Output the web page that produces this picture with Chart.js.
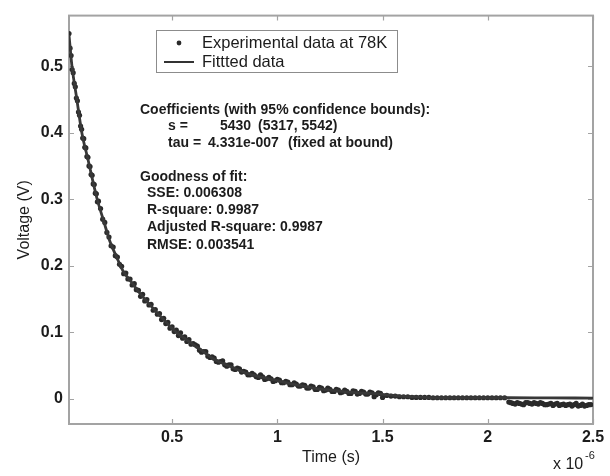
<!DOCTYPE html>
<html>
<head>
<meta charset="utf-8">
<script src="https://cdn.jsdelivr.net/npm/chart.js@4.4.0/dist/chart.umd.min.js"></script>
<style>
html,body{margin:0;padding:0;background:#fff;}
#wrap{width:610px;height:476px;position:relative;}
</style>
</head>
<body>
<div id="wrap"><canvas id="c" width="610" height="476"></canvas></div>
<script>
// Time in units of 1e-6 s (axis shows "x 10^-6"), voltage in V
const expTime = [
0.010,0.015,0.020,0.025,0.030,0.035,0.040,0.045,0.050,0.055,0.060,0.065,0.070,0.075,0.080,0.085,0.090,0.095,0.100,0.105,0.110,0.115,0.120,0.125,0.130,0.135,0.140,0.145,0.150,
0.16,0.17,0.18,0.19,0.20,0.21,0.22,0.23,0.24,0.25,0.26,0.27,0.28,0.29,0.30,0.31,0.32,0.33,0.34,0.35,0.36,0.37,0.38,0.39,0.40,0.41,0.42,0.43,0.44,0.45,0.46,0.47,0.48,0.49,0.50,0.51,0.52,0.53,0.54,0.55,0.56,0.57,0.58,0.59,0.60,
0.62,0.64,0.66,0.68,0.70,0.72,0.74,0.76,0.78,0.80,0.82,0.84,0.86,0.88,0.90,0.92,0.94,0.96,0.98,1.00,
1.02,1.04,1.06,1.08,1.10,1.12,1.14,1.16,1.18,1.20,1.22,1.24,1.26,1.28,1.30,1.32,1.34,1.36,1.38,1.40,
1.42,1.44,1.46,1.48,1.50,1.52,1.54,1.56,1.58,1.60,1.62,1.64,1.66,1.68,1.70,1.72,1.74,1.76,1.78,1.80,
1.82,1.84,1.86,1.88,1.90,1.92,1.94,1.96,1.98,2.00,2.02,2.04,2.06,2.08,2.10,2.12,2.14,2.16,2.18,2.20,
2.22,2.24,2.26,2.28,2.30,2.32,2.34,2.36,2.38,2.40,2.42,2.44,2.46,2.48
];
const expVoltage = [
0.549,0.527,0.516,0.495,0.490,0.474,0.469,0.452,0.448,0.431,0.426,0.410,0.405,0.392,0.391,0.378,0.377,0.364,0.363,0.350,0.349,0.337,0.336,0.323,0.322,0.309,0.308,0.296,0.297,
0.286,0.270,0.265,0.250,0.243,0.230,0.228,0.215,0.213,0.202,0.199,0.188,0.189,0.180,0.180,0.171,0.173,0.164,0.163,0.154,0.157,0.147,0.149,0.141,0.142,0.133,0.134,0.127,0.128,0.119,0.121,0.113,0.115,0.106,0.108,0.101,0.103,0.095,0.099,0.091,0.093,0.086,0.089,0.082,0.083,
0.079,0.070,0.071,0.062,0.061,0.055,0.057,0.049,0.051,0.044,0.045,0.041,0.036,0.038,0.033,0.036,0.029,0.032,0.026,0.029,
0.024,0.026,0.021,0.024,0.019,0.021,0.016,0.019,0.014,0.017,0.012,0.016,0.011,0.014,0.009,0.013,0.008,0.012,0.007,0.011,
0.007,0.010,0.003,0.009,0.002,0.005,0.004,0.004,0.003,0.003,0.003,0.002,0.002,0.002,0.002,0.002,0.0015,0.0015,0.0015,0.0015,
0.0015,0.0015,0.0015,0.0015,0.0015,0.0015,0.0015,0.0015,0.0015,0.0015,0.0015,0.0015,0.0015,0.0015,-0.005,-0.007,-0.006,-0.008,-0.006,-0.007,
-0.006,-0.008,-0.007,-0.009,-0.007,-0.008,-0.010,-0.008,-0.009,-0.011,-0.007,-0.010,-0.011,-0.009
];
// additional in-between samples (dense parts of the record)
const expTimeMid = [
0.61,0.63,0.65,0.67,0.69,0.71,0.73,0.75,0.77,0.79,0.81,0.83,0.85,0.87,0.89,0.91,0.93,0.95,0.97,0.99,
1.01,1.03,1.05,1.07,1.09,1.11,1.13,1.15,1.17,1.19,1.21,1.23,1.25,1.27,1.29,1.31,1.33,1.35,1.37,1.39,
1.41,1.43,1.45,1.47,1.49,
2.11,2.13,2.15,2.17,2.19,2.21,2.23,2.25,2.27,2.29,2.31,2.33,2.35,2.37,2.39,2.41,2.43,2.45,2.47,2.49
];
const expVoltageMid = [
0.081,0.073,0.071,0.064,0.063,0.056,0.056,0.051,0.051,0.045,0.046,0.040,0.040,0.036,0.036,0.032,0.033,0.030,0.030,0.027,
0.028,0.024,0.025,0.021,0.022,0.019,0.020,0.016,0.018,0.014,0.016,0.013,0.014,0.011,0.013,0.010,0.011,0.008,0.011,0.008,
0.010,0.007,0.009,0.006,0.008,
-0.006,-0.008,-0.007,-0.009,-0.006,-0.008,-0.007,-0.006,-0.009,-0.008,-0.010,-0.007,-0.009,-0.010,-0.008,-0.009,-0.011,-0.008,-0.010,-0.009
];
const fitTime = [0.01,0.024,0.045,0.071,0.1,0.143,0.175,0.205,0.235,0.267,0.31,0.348,0.39,0.429,0.47,0.505,0.571,0.63,0.695,0.78,0.857,0.93,1.014,1.09,1.171,1.25,1.333,1.41,1.49,1.586,1.66,1.743,1.9,2.095,2.3,2.5];
const fitVoltage = [0.547,0.5,0.455,0.4,0.36,0.301,0.267,0.236,0.214,0.192,0.174,0.158,0.143,0.129,0.1155,0.104,0.088,0.075,0.060,0.048,0.038,0.032,0.026,0.021,0.016,0.013,0.010,0.0085,0.007,0.004,0.0027,0.0015,0.0015,0.0015,0.0012,0.001];
const xTicks = [0.5,1,1.5,2,2.5];
const xTickLabels = ['0.5','1','1.5','2','2.5'];
const yTicks = [0,0.1,0.2,0.3,0.4,0.5];
const yTickLabels = ['0','0.1','0.2','0.3','0.4','0.5'];
const legendLabels = ['Experimental data at 78K','Fittted data'];
const fitStats = ['SSE: 0.006308','R-square: 0.9987','Adjusted R-square: 0.9987','RMSE: 0.003541'];

const FONT = "'Liberation Sans', Arial, Helvetica, sans-serif";
const TXT = '#1c1c1c';

const decor = {
  id: 'decor',
  beforeDatasetsDraw(chart) {
    const {ctx, chartArea: a, scales: {x, y}} = chart;
    ctx.save();
    ctx.strokeStyle = '#a3a3a3';
    ctx.lineWidth = 2;
    ctx.strokeRect(a.left, a.top, a.right - a.left, a.bottom - a.top);
    ctx.lineWidth = 1.2;
    ctx.beginPath();
    xTicks.forEach(v => {
      const p = Math.round(x.getPixelForValue(v)) + 0.5;
      ctx.moveTo(p, a.bottom); ctx.lineTo(p, a.bottom - 5);
      ctx.moveTo(p, a.top); ctx.lineTo(p, a.top + 5);
    });
    yTicks.forEach(v => {
      const p = Math.round(y.getPixelForValue(v)) + 0.5;
      ctx.moveTo(a.left, p); ctx.lineTo(a.left + 5, p);
      ctx.moveTo(a.right, p); ctx.lineTo(a.right - 5, p);
    });
    ctx.stroke();
    ctx.restore();
  },
  afterDraw(chart) {
    const {ctx} = chart;
    ctx.save();
    // legend box
    ctx.fillStyle = '#fff';
    ctx.fillRect(156, 30, 241, 42);
    ctx.strokeStyle = '#8c8c8c';
    ctx.lineWidth = 1;
    ctx.strokeRect(156.5, 30.5, 241, 42);
    ctx.fillStyle = '#2a2a2a';
    ctx.beginPath(); ctx.arc(179, 43, 2.4, 0, Math.PI * 2); ctx.fill();
    ctx.strokeStyle = '#333';
    ctx.lineWidth = 2;
    ctx.beginPath(); ctx.moveTo(164, 62); ctx.lineTo(194, 62); ctx.stroke();
    ctx.fillStyle = TXT;
    ctx.textBaseline = 'middle';
    ctx.font = '16.5px ' + FONT;
    ctx.fillText(legendLabels[0], 202, 43);
    ctx.fillText(legendLabels[1], 202, 62);
    // fit annotation
    ctx.font = 'bold 14px ' + FONT;
    ctx.fillText('Coefficients (with 95% confidence bounds):', 140, 110);
    ctx.fillText('s =', 168, 126);
    ctx.fillText('5430', 220, 126);
    ctx.fillText('(5317, 5542)', 258, 126);
    ctx.fillText('tau =', 168, 143);
    ctx.fillText('4.331e-007', 208, 143);
    ctx.fillText('(fixed at bound)', 288, 143);
    ctx.fillText('Goodness of fit:', 140, 177);
    const ys = [193, 210, 227, 245];
    fitStats.forEach((t, i) => ctx.fillText(t, 147, ys[i]));
    // x multiplier
    ctx.font = '16px ' + FONT;
    ctx.fillText('x 10', 553, 465);
    ctx.font = '11px ' + FONT;
    ctx.fillText('-6', 585, 456);
    ctx.restore();
  }
};

new Chart(document.getElementById('c'), {
  type: 'scatter',
  data: {
    datasets: [
      {
        label: legendLabels[0],
        data: expTime.map((t, i) => ({x: t, y: expVoltage[i]}))
          .concat(expTimeMid.map((t, i) => ({x: t, y: expVoltageMid[i]}))),
        showLine: false,
        pointRadius: 2.6,
        pointBorderWidth: 0,
        pointBackgroundColor: '#2a2a2a',
        pointBorderColor: '#2a2a2a',
        order: 2
      },
      {
        label: legendLabels[1],
        data: fitTime.map((t, i) => ({x: t, y: fitVoltage[i]})),
        showLine: true,
        borderColor: '#383838',
        borderWidth: 2.8,
        pointRadius: 0,
        cubicInterpolationMode: 'monotone',
        order: 1
      }
    ]
  },
  options: {
    responsive: false,
    animation: false,
    layout: {padding: {left: 0, right: 17, top: 5, bottom: 0}},
    plugins: {legend: {display: false}, tooltip: {enabled: false}},
    scales: {
      x: {
        type: 'linear',
        min: 0.01, max: 2.5,
        grid: {display: false, drawTicks: false},
        border: {display: false},
        afterBuildTicks: s => { s.ticks = xTicks.map(v => ({value: v})); },
        afterFit: s => { s.height = 52; },
        ticks: {
          padding: 4,
          color: TXT,
          font: {family: FONT, size: 16, weight: 'bold'},
          callback: (v) => xTickLabels[xTicks.indexOf(v)]
        },
        title: {display: true, text: 'Time (s)', color: TXT,
          font: {family: FONT, size: 16}, padding: {top: 0, bottom: 9}}
      },
      y: {
        type: 'linear',
        min: -0.038, max: 0.576,
        grid: {display: false, drawTicks: false},
        border: {display: false},
        afterBuildTicks: s => { s.ticks = yTicks.map(v => ({value: v})); },
        afterFit: s => { s.width = 69; },
        ticks: {
          padding: 6,
          color: TXT,
          font: {family: FONT, size: 16, weight: 'bold'},
          callback: (v) => { const i = yTicks.findIndex(t => Math.abs(t - v) < 1e-9); return i >= 0 ? yTickLabels[i] : ''; }
        },
        title: {display: true, text: 'Voltage (V)', color: TXT,
          font: {family: FONT, size: 16}, padding: {top: 15, bottom: 0}}
      }
    }
  },
  plugins: [decor]
});
</script>
</body>
</html>
